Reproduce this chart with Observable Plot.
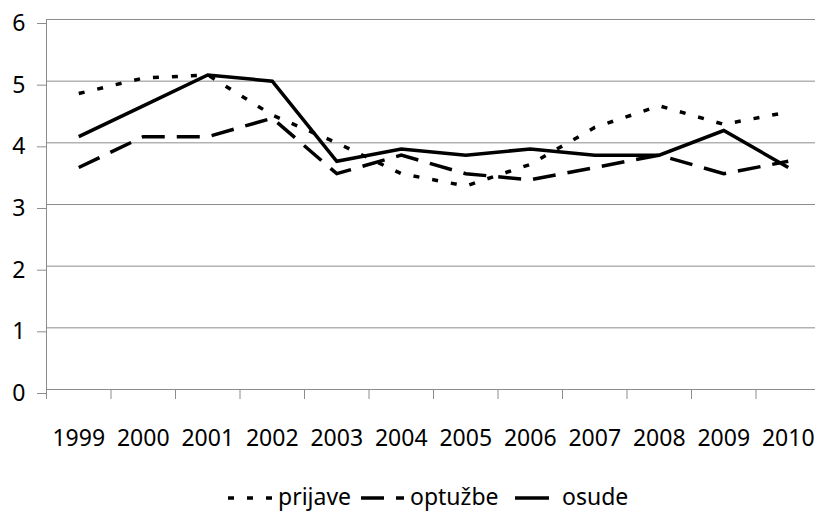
<!DOCTYPE html>
<html>
<head>
<meta charset="utf-8">
<script src="https://cdn.jsdelivr.net/npm/d3@7"></script>
<script src="https://cdn.jsdelivr.net/npm/@observablehq/plot@0.6"></script>
<style>
  html, body { margin: 0; padding: 0; background: #fff; overflow: hidden; }
  #chart { width: 815px; overflow: hidden; }
  .legend { position: relative; height: 46px; font-family: "Noto Sans", sans-serif; font-size: 23px; color: #000; }
  .legend .item { position: absolute; top: 5px; height: 46px; display: flex; align-items: center; }
  .legend svg { display: block; }
</style>
</head>
<body>
<div id="chart"></div>
<script>
// ---- data ----
const years = [1999, 2000, 2001, 2002, 2003, 2004, 2005, 2006, 2007, 2008, 2009, 2010];
const prijave = [4.8, 5.05, 5.1, 4.45, 4.0, 3.5, 3.3, 3.65, 4.25, 4.6, 4.3, 4.5];
const optuzbe = [3.6, 4.1, 4.1, 4.4, 3.5, 3.8, 3.5, 3.4, 3.6, 3.8, 3.5, 3.7];
const osude   = [4.1, 4.6, 5.1, 5.0, 3.7, 3.9, 3.8, 3.9, 3.8, 3.8, 4.2, 3.6];
const seriesNames = ["prijave", "optužbe", "osude"];
const yTicks = [0, 1, 2, 3, 4, 5, 6];

// ---- build table ----
const seriesValues = [prijave, optuzbe, osude];
const dashes = ["6 13", "23 12", null];
const rows = [];
seriesNames.forEach((name, i) => {
  years.forEach((yr, j) => rows.push({series: name, year: yr, value: seriesValues[i][j]}));
});
const boundaries = [...years.map(y => y - 0.5), years[years.length - 1] + 0.5];

const grid = "#8c8c8c";
const lineMarks = seriesNames.map((name, i) =>
  Plot.line(rows.filter(r => r.series === name), {
    x: "year", y: "value",
    stroke: "#000", strokeWidth: 3.5,
    strokeDasharray: dashes[i] || undefined,
    strokeLinecap: "butt", strokeLinejoin: "miter", strokeMiterlimit: 4
  })
);

const chart = Plot.plot({
  width: 815,
  height: 470,
  marginLeft: 46,
  marginRight: -5,
  marginTop: 19,
  marginBottom: 81,
  style: {fontFamily: "Noto Sans, sans-serif", fontSize: "23px", color: "#000", background: "#fff", overflow: "hidden"},
  x: {type: "linear", domain: [boundaries[0], boundaries[boundaries.length - 1]]},
  y: {domain: [0, 6]},
  marks: [
    Plot.ruleY(yTicks, {stroke: grid, strokeWidth: 1}),
    Plot.ruleX([boundaries[0]], {stroke: grid, strokeWidth: 1}),
    Plot.axisY(yTicks, {tickSize: 9, tickPadding: 12, stroke: grid, strokeOpacity: 1, fill: "#000", fontSize: 23, dy: 4, label: null, tickFormat: d => String(d)}),
    Plot.axisX(boundaries, {tickSize: 10, stroke: grid, strokeOpacity: 1, tickFormat: () => "", label: null}),
    Plot.axisX(years, {tickSize: 0, tickPadding: 40, fill: "#000", fontSize: 23, label: null, tickFormat: d => String(d)}),
    ...lineMarks
  ]
});
document.getElementById("chart").appendChild(chart);

// ---- legend ----
const legend = document.createElement("div");
legend.className = "legend";
const legendLayout = [
  {left: 228, sw: 44},
  {left: 361, sw: 43},
  {left: 515, sw: 34}
];
seriesNames.forEach((name, i) => {
  const item = document.createElement("div");
  item.className = "item";
  item.style.left = legendLayout[i].left + "px";
  const w = legendLayout[i].sw;
  const svg = d3.create("svg").attr("width", w).attr("height", 10);
  svg.append("line").attr("x1", 0).attr("x2", w).attr("y1", 5).attr("y2", 5)
    .attr("stroke", "#000").attr("stroke-width", 3.5)
    .attr("stroke-dasharray", dashes[i]);
  item.appendChild(svg.node());
  const label = document.createElement("span");
  label.textContent = name;
  label.style.marginLeft = (i === 2 ? 13 : 6) + "px";
  label.style.marginTop = "-4px";
  item.appendChild(label);
  legend.appendChild(item);
});
document.body.appendChild(legend);
</script>
</body>
</html>
